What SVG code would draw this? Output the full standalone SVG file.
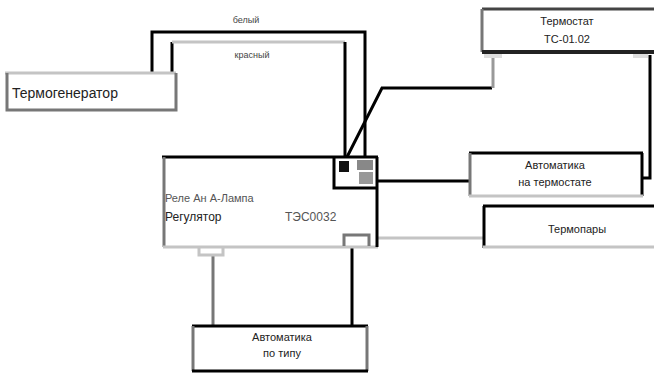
<svg xmlns="http://www.w3.org/2000/svg" width="654" height="373" viewBox="0 0 654 373">
<style>
text{font-family:"Liberation Sans","Noto Sans",sans-serif;fill:#222;}
.t{font-size:11px;text-anchor:middle;}
.blk{stroke:#000;stroke-width:3;fill:none;}
.gry{stroke:#999;stroke-width:3;fill:none;}
.lg{stroke:#c4c4c4;stroke-width:3;fill:none;}
.dg{stroke:#777;stroke-width:3;fill:none;}
</style>
<rect width="654" height="373" fill="#fff"/>
<g id="connectors">
<polyline class="blk" points="152,72 152,32 365,32 365,158"/>
<polyline class="blk" points="172,72 172,42"/>
<polyline class="lg" points="172,42 345,42"/>
<polyline class="blk" points="345,42 345,158"/>
<polyline class="blk" points="347,157 382,88 492,88"/>
<polyline class="gry" points="493,88 493,55"/>
<polyline class="blk" points="378,181 470,181"/>
<polyline class="blk" points="650,55 650,178 643,178"/>
<polyline class="lg" points="378,238 483,238"/>
<polyline class="dg" points="213,254 213,326"/>
<polyline class="blk" points="352,236 352,326"/>
<text x="246" y="23" style="font-size:9px;text-anchor:middle;fill:#444">белый</text>
<text x="252" y="58" style="font-size:9px;text-anchor:middle;fill:#444">красный</text>
</g>
<g id="n-left">
<rect x="7" y="73" width="169" height="37" fill="#fff"/>
<line x1="5" y1="73" x2="176" y2="73" class="lg"/>
<polyline class="dg" points="7,73 7,110 176,110 176,73"/>
<text x="12" y="98" style="font-size:14px">Термогенератор</text>
</g>
<g id="n-thermostat">
<rect x="482" y="9" width="171" height="43" fill="#fff"/>
<line x1="482" y1="9" x2="654" y2="9" stroke="#444" stroke-width="3"/>
<line x1="482" y1="9" x2="482" y2="52" class="dg"/>
<line x1="482" y1="52" x2="654" y2="52" stroke="#222" stroke-width="4"/>
<rect x="484" y="54" width="18" height="4" fill="#ddd"/>
<rect x="633" y="54" width="15" height="4" fill="#ddd"/>
<text class="t" x="567" y="25">Термостат</text>
<text class="t" x="567" y="43">ТС-01.02</text>
</g>
<g id="n-main">
<rect x="163" y="157" width="215" height="90" fill="#fff"/>
<line x1="162" y1="157" x2="378" y2="157" class="blk" stroke-width="4"/>
<line x1="164" y1="157" x2="164" y2="247" class="dg"/>
<line x1="163" y1="247" x2="378" y2="247" class="lg"/>
<line x1="377" y1="157" x2="377" y2="247" class="blk"/>
<polyline class="blk" points="334,157 334,188 377,188"/>
<rect x="339" y="161" width="10" height="11" fill="#111"/>
<rect x="357" y="160" width="16" height="10" fill="#888"/>
<rect x="359" y="172" width="14" height="12" fill="#999"/>
<polyline class="dg" points="344,246 344,235 369,235 369,246" stroke-width="2"/>
<polyline class="lg" points="199,248 199,255 223,255 223,248"/>
<text x="165" y="202" style="font-size:11px;fill:#555">Реле Ан А-Лампа</text>
<text x="165" y="221" style="font-size:12px">Регулятор</text>
<text x="285" y="221" style="font-size:12px;fill:#555">ТЭС0032</text>
</g>
<g id="n-auto">
<rect x="469" y="153" width="173" height="43" fill="#fff"/>
<line x1="469" y1="153" x2="643" y2="153" class="blk" stroke="#333"/>
<line x1="470" y1="153" x2="470" y2="196" class="dg"/>
<line x1="642" y1="153" x2="642" y2="196" class="blk"/>
<line x1="469" y1="196" x2="643" y2="196" class="lg"/>
<text class="t" x="555" y="169">Автоматика</text>
<text class="t" x="555" y="186">на термостате</text>
</g>
<g id="n-thermo">
<rect x="483" y="206" width="171" height="41" fill="#fff"/>
<line x1="483" y1="206" x2="654" y2="206" class="blk"/>
<line x1="484" y1="206" x2="484" y2="248" class="blk"/>
<line x1="483" y1="247" x2="654" y2="247" class="lg"/>
<text class="t" x="577" y="233">Термопары</text>
</g>
<g id="n-bottom">
<rect x="192" y="326" width="176" height="45" fill="#fff"/>
<line x1="192" y1="326" x2="368" y2="326" class="blk" stroke-width="4"/>
<line x1="193" y1="326" x2="193" y2="371" class="dg"/>
<line x1="367" y1="326" x2="367" y2="371" class="dg"/>
<line x1="192" y1="371" x2="368" y2="371" class="blk"/>
<text class="t" x="282" y="341">Автоматика</text>
<text class="t" x="282" y="357">по типу</text>
</g>
</svg>
